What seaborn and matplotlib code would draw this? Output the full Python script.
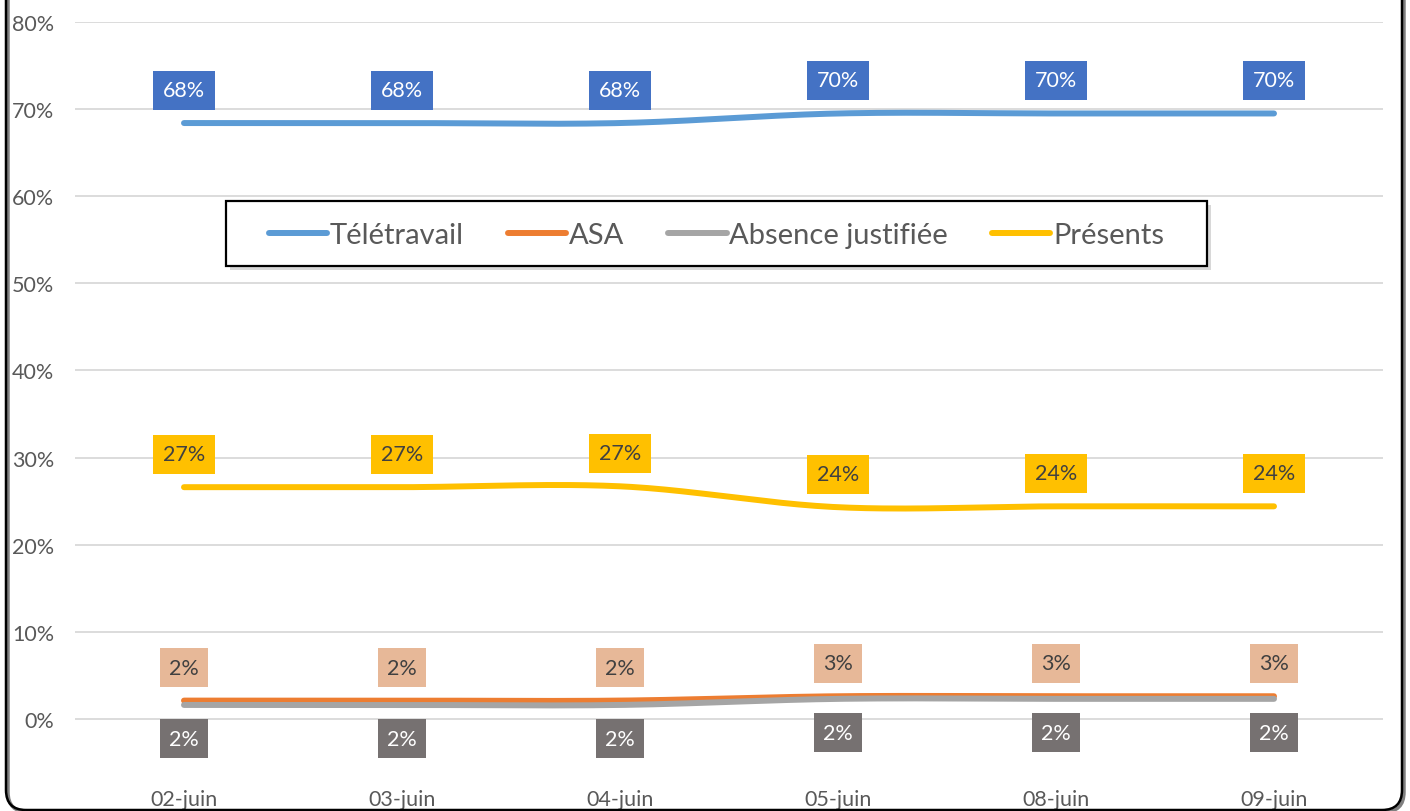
import numpy as np
import pandas as pd
import matplotlib
matplotlib.use("Agg")
import matplotlib.pyplot as plt
from matplotlib.lines import Line2D
from matplotlib.patches import FancyBboxPatch, Rectangle
import seaborn as sns

# data
days = ["02-juin", "03-juin", "04-juin", "05-juin", "08-juin", "09-juin"]
teletravail = [0.684, 0.684, 0.684, 0.695, 0.695, 0.695]
asa = [0.021, 0.021, 0.021, 0.026, 0.026, 0.026]
absence = [0.016, 0.016, 0.016, 0.023, 0.023, 0.023]
presents = [0.266, 0.266, 0.267, 0.243, 0.244, 0.244]

series = [
    # name, values, line colour, label box colour, label text colour, label offset (px)
    ("Télétravail", teletravail, "#5B9BD5", "#4472C4", "white", 33),
    ("ASA", asa, "#ED7D31", "#E7B898", "#404040", 33),
    ("Absence justifiée", absence, "#A5A5A5", "#767171", "white", -34),
    ("Présents", presents, "#FFC000", "#FFC000", "#404040", 33),
]

sns.set_theme(style="white")
plt.rcParams["font.family"] = ["Lato", "DejaVu Sans"]


def smooth(x, y, n=40):
    # excel-like smoothed line (catmull-rom as cubic bezier)
    x = np.asarray(x, float)
    y = np.asarray(y, float)
    px = np.concatenate([[x[0]], x, [x[-1]]])
    py = np.concatenate([[y[0]], y, [y[-1]]])
    xs, ys = [], []
    t = np.linspace(0, 1, n)
    for i in range(1, len(px) - 2):
        p0, p1, p2, p3 = (np.array([px[j], py[j]]) for j in (i - 1, i, i + 1, i + 2))
        c1 = p1 + (p2 - p0) / 6
        c2 = p2 - (p3 - p1) / 6
        b = (((1 - t) ** 3)[:, None] * p1 + (3 * (1 - t) ** 2 * t)[:, None] * c1
             + (3 * (1 - t) * t ** 2)[:, None] * c2 + (t ** 3)[:, None] * p2)
        xs.extend(b[:, 0])
        ys.extend(b[:, 1])
    return np.array(xs), np.array(ys)


fig = plt.figure(figsize=(14.1, 8.12), dpi=100)
W, H = 1410, 812
ax = fig.add_axes([75 / W, 1 - 780 / H, (1383 - 75) / W, (780 - 23) / H])

xpos = np.arange(len(days))
for name, vals, col, boxcol, txtcol, off in series:
    sx, sy = smooth(xpos, vals)
    df = pd.DataFrame({"x": sx, "y": sy})
    sns.lineplot(data=df, x="x", y="y", color=col, linewidth=4.3, sort=False,
                 ax=ax, zorder=3, solid_capstyle="round")
for name, vals, col, boxcol, txtcol, off in series:
    for xi, v in zip(xpos, vals):
        ax.annotate(f"{v * 100:.0f}%", (xi, v), xytext=(0, off), textcoords="offset pixels",
                    ha="center", va="center", fontsize=15.5, color=txtcol, zorder=5,
                    annotation_clip=False,
                    bbox=dict(boxstyle="square,pad=0.44", fc=boxcol, ec="none"))

ax.set_xlim(-0.5, len(days) - 0.5)
ax.set_ylim(-0.069, 0.8)
ax.set_yticks(np.arange(0, 0.81, 0.1))
ax.set_yticklabels([f"{int(round(t * 100))}%" for t in np.arange(0, 0.81, 0.1)])
ax.set_xticks(xpos)
ax.set_xticklabels(days)
ax.tick_params(axis="both", length=0, labelsize=15.5, labelcolor="#595959")
ax.tick_params(axis="y", pad=15)
ax.tick_params(axis="x", pad=7)
ax.set_xlabel("")
ax.set_ylabel("")
ax.grid(axis="y", color="#D9D9D9", linewidth=1.3)
ax.grid(axis="x", visible=False)
for s in ax.spines.values():
    s.set_visible(False)

# legend with black frame and shadow
handles = [Line2D([0], [0], color=c, linewidth=4.3, solid_capstyle="round")
           for _, _, c, _, _, _ in series]
fig.patches.append(Rectangle((230 / W, 1 - 271 / H), 981 / W, 65 / H, transform=fig.transFigure,
                             fc="#BFBFBF", ec="none", alpha=0.6, zorder=6))
fig.patches.append(Rectangle((226 / W, 1 - 267 / H), 981 / W, 65 / H, transform=fig.transFigure,
                             fc="white", ec="black", lw=1.6, zorder=7))
leg = fig.legend(handles, [s[0] for s in series], loc="center", ncol=4,
                 bbox_to_anchor=(716.5 / W, 1 - 236 / H), frameon=False, fontsize=21,
                 handlelength=2.0, handletextpad=0.1, columnspacing=1.5, labelcolor="#595959")
leg.set_zorder(8)

# outer rounded border of the chart area
fig.patches.append(FancyBboxPatch((0.08, -0.01), 13.96, 8.6, boxstyle="round,pad=0,rounding_size=0.2",
                                  transform=fig.dpi_scale_trans, fc="none", ec="#7F7F7F", lw=2.5,
                                  zorder=9))
fig.patches.append(FancyBboxPatch((0.06, 0.01), 13.96, 8.6, boxstyle="round,pad=0,rounding_size=0.2",
                                  transform=fig.dpi_scale_trans, fc="none", ec="black", lw=1.8,
                                  zorder=10))

fig.savefig("out.png", dpi=100, facecolor="white")
